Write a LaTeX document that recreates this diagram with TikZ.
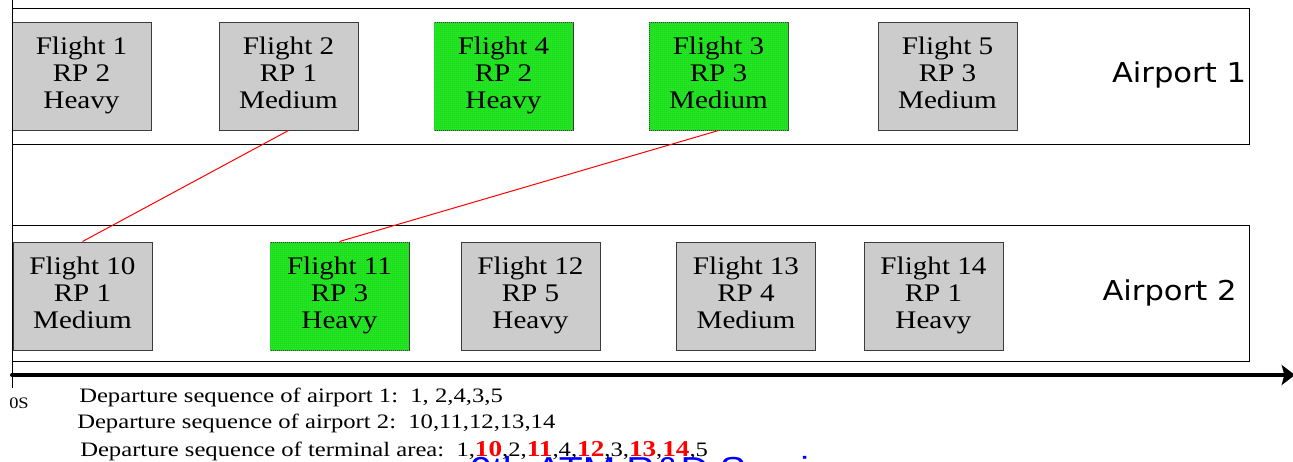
\documentclass[tikz,border=0pt]{standalone}
\usepackage{fontspec}
\setmainfont{Liberation Serif}
\newfontfamily\labelsans{DejaVu Sans}
\newfontfamily\marksans{Liberation Sans}
\usetikzlibrary{arrows.meta,patterns.meta}

\definecolor{boxgrey}{RGB}{204,204,204}
\definecolor{boxedge}{RGB}{60,60,60}
\definecolor{brightgreen}{RGB}{10,255,10}
\definecolor{gridgreen}{RGB}{40,215,40}
\definecolor{seqred}{RGB}{255,0,0}

% horizontally widened text
\newcommand{\wide}[2][1.15]{\scalebox{#1}[1]{#2}}
\newcommand{\flightinfo}[3]{\wide{\begin{tabular}{@{}c@{}}#1\\#2\\#3\end{tabular}}}
\newcommand{\hl}[1]{\textcolor{seqred}{\fontsize{17}{18}\selectfont\textbf{#1}}}

\tikzset{
  airport/.style={draw=black, line width=0.75pt, fill=white,
    minimum width=927.75pt, minimum height=102pt, inner sep=0pt},
  aplabel/.style={font=\labelsans\fontsize{20.5}{24}\selectfont, inner sep=0pt},
  flight/.style={draw=boxedge, line width=0.75pt, fill=boxgrey,
    minimum width=104.25pt, minimum height=81pt, inner sep=0pt,
    font=\fontsize{19}{20.25}\selectfont},
  priority/.style={flight, fill=brightgreen,
    postaction={pattern={Lines[distance=1.5pt,line width=0.08pt]}, pattern color=gridgreen},
    postaction={pattern={Lines[distance=1.5pt,angle=90,line width=0.08pt]}, pattern color=gridgreen}},
  link/.style={draw=red, line width=0.75pt},
  timeaxis/.style={line width=3pt, line cap=round, -{Stealth[length=10pt,width=15pt,inset=2pt]}},
  seq/.style={anchor=base west, inner sep=0pt, font=\fontsize{15.4}{18}\selectfont},
}

\begin{document}
\begin{tikzpicture}[x=0.75pt, y=-0.75pt]
\useasboundingbox (0,0) rectangle (1293,461);
\clip (0,0) rectangle (1293,461);

% airports
\node[airport] (ap1) at (630.5,76) {};
\node[airport] (ap2) at (630.5,293) {};
\node[aplabel] (ap1name) at (1179,75) {\wide[1.12]{Airport 1}};
\node[aplabel] (ap2name) at (1169.5,293) {\wide[1.12]{Airport 2}};

% flights of airport 1
\node[flight]   (f1) at (81.5,76)  {\flightinfo{Flight 1}{RP 2}{Heavy}};
\node[flight]   (f2) at (288.5,76) {\flightinfo{Flight 2}{RP 1}{Medium}};
\node[priority] (f4) at (503.5,76) {\flightinfo{Flight 4}{RP 2}{Heavy}};
\node[priority] (f3) at (718.5,76) {\flightinfo{Flight 3}{RP 3}{Medium}};
\node[flight]   (f5) at (947.5,76) {\flightinfo{Flight 5}{RP 3}{Medium}};

% flights of airport 2
\node[flight]   (f10) at (82.5,296)  {\flightinfo{Flight 10}{RP 1}{Medium}};
\node[priority] (f11) at (339.5,296) {\flightinfo{Flight 11}{RP 3}{Heavy}};
\node[flight]   (f12) at (530.5,296) {\flightinfo{Flight 12}{RP 5}{Heavy}};
\node[flight]   (f13) at (746,296)   {\flightinfo{Flight 13}{RP 4}{Medium}};
\node[flight]   (f14) at (933.5,296) {\flightinfo{Flight 14}{RP 1}{Heavy}};

% interleaving links
\draw[link] (f2.south) -- (f10.north);
\draw[link] (f3.south) -- (f11.north);

% time axis
\coordinate (top) at (12,0);
\coordinate (tick) at (12,388);
\coordinate (origin) at (12,375);
\coordinate (tip) at (1295,375);
\draw[line width=0.75pt] (top) -- (tick);
\draw[timeaxis] (origin) -- (tip);
\node[anchor=base west, inner sep=0pt, font=\fontsize{12}{14}\selectfont] (zero) at (9,408) {\wide{0S}};

% departure sequences
\node[seq] (s1) at (79,402) {\wide[1.2]{Departure sequence of airport 1:\ \ 1, 2,4,3,5}};
\node[seq] (s2) at (77,428) {\wide[1.2]{Departure sequence of airport 2:\ \ 10,11,12,13,14}};
\node[seq] (s3) at (80,456) {\wide[1.2]{Departure sequence of terminal area:\ \ 1,\hl{10},2,\hl{11},4,\hl{12},3,\hl{13},\hl{14},5}};

% seminar footer, mostly below the page edge
\node[anchor=base west, inner sep=0pt, text=blue, font=\marksans\fontsize{26}{30}\selectfont] (footer) at (470,481) {\wide[1.13]{9th ATM R\&D Seminar}};
\end{tikzpicture}
\end{document}
